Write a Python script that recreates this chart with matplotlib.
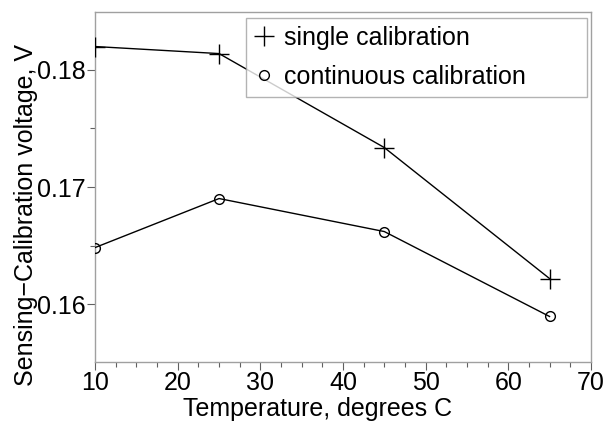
import numpy as np
import matplotlib
matplotlib.use("Agg")
import matplotlib.pyplot as plt
from matplotlib.lines import Line2D
from matplotlib.ticker import MultipleLocator

plt.rcParams['font.family'] = ['Liberation Sans', 'DejaVu Sans']

# data
temps = [10, 25, 45, 65]
single_cal = [0.18196, 0.18136, 0.17336, 0.16221]
contin_cal = [0.16485, 0.16902, 0.16621, 0.15898]

fs = 18
gray = "#a0a0a0"

fig = plt.figure(figsize=(6.06, 4.21), dpi=100)
ax = fig.add_axes([0.157, 0.140, 0.818, 0.8315])

ax.plot(temps, single_cal, color="black", lw=1.0, marker="+", ms=14,
        mew=1.0, zorder=3)
ax.plot(temps, contin_cal, color="black", lw=1.0, marker="o", ms=7,
        mfc="none", mew=1.0, zorder=3)

ax.set_xlim(10, 70)
ax.set_ylim(0.1551, 0.1849)
ax.xaxis.set_major_locator(MultipleLocator(10))
ax.xaxis.set_minor_locator(MultipleLocator(2.5))
ax.yaxis.set_major_locator(MultipleLocator(0.01))
ax.yaxis.set_minor_locator(MultipleLocator(0.005))

for s in ax.spines.values():
    s.set_color(gray)
    s.set_linewidth(1.0)

ax.tick_params(which="both", direction="out", color="#606060", labelsize=fs,
               top=False, right=False)
ax.tick_params(which="major", length=5.8, width=0.8)
ax.tick_params(axis="y", which="major", pad=1.0)
ax.tick_params(axis="x", which="major", pad=0.5)
ax.tick_params(which="minor", length=3.6, width=0.8)

ax.set_xlabel("Temperature, degrees C", fontsize=fs)
ax.xaxis.set_label_coords(0.448, -0.100)
ax.set_ylabel("Sensing\u2212Calibration voltage, V", fontsize=fs)
ax.yaxis.set_label_coords(-0.115, 0.42)

handles = [Line2D([], [], ls="none", marker="+", ms=14, mew=1.0, color="black"),
           Line2D([], [], ls="none", marker="o", ms=7, mfc="none", mew=1.0, color="black")]
leg = ax.legend(handles, ["single calibration", "continuous calibration"],
                loc="upper left", bbox_to_anchor=(0.3044, 0.751, 0.6876, 0.232),
                mode="expand", fontsize=fs, frameon=True, fancybox=False,
                handlelength=0.8, handletextpad=0.4, labelspacing=0.6,
                borderpad=0.32, borderaxespad=0)
leg.get_frame().set_edgecolor(gray)
leg.get_frame().set_linewidth(1.0)

fig.savefig("out.png", dpi=100)
